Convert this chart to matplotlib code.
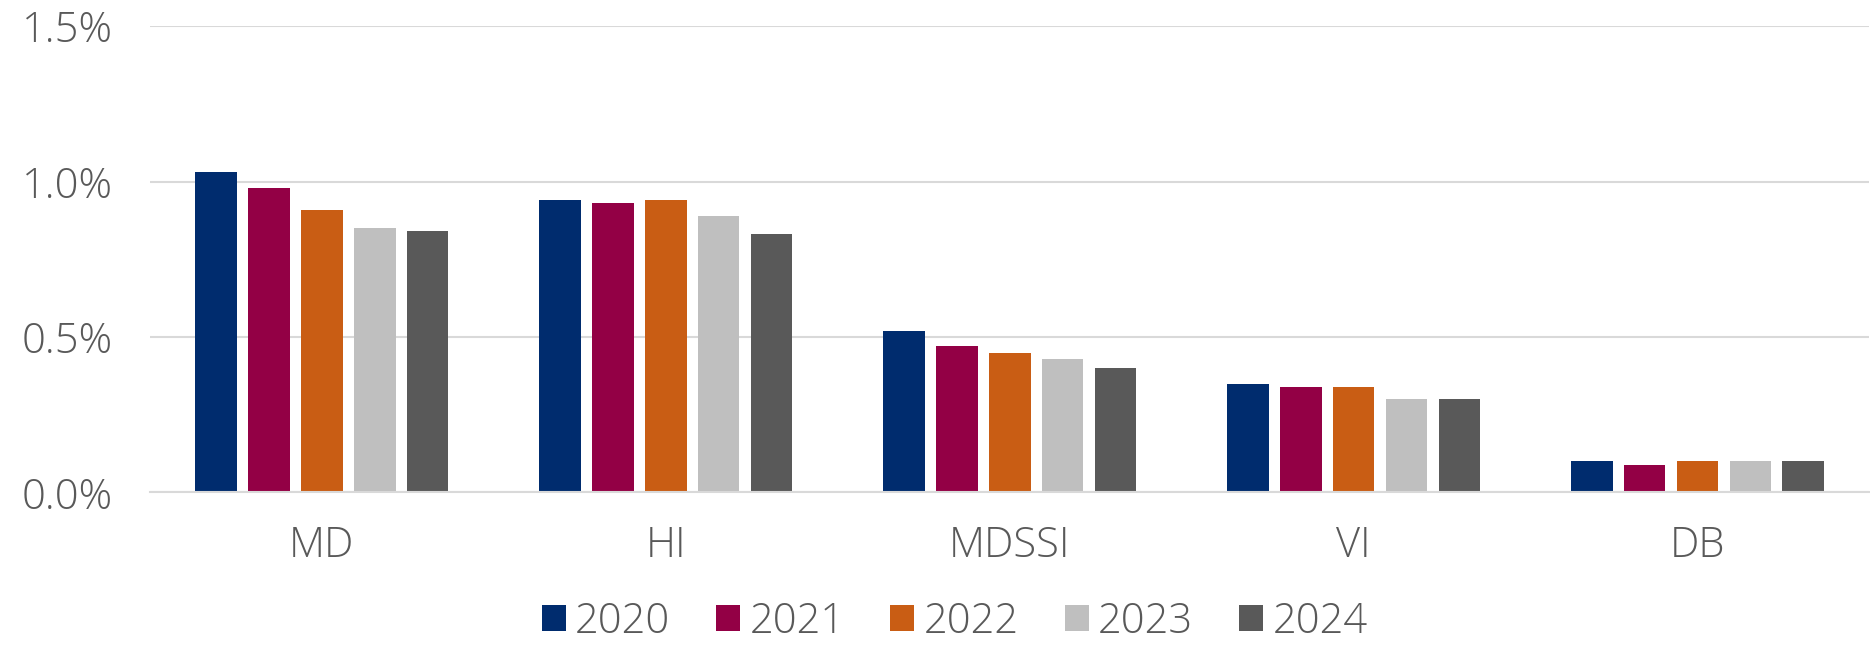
import numpy as np
import matplotlib.pyplot as plt
from matplotlib.ticker import FuncFormatter

categories = ['MD', 'HI', 'MDSSI', 'VI', 'DB']
years = ['2020', '2021', '2022', '2023', '2024']
v2020 = [1.03, 0.94, 0.52, 0.35, 0.10]
v2021 = [0.98, 0.93, 0.47, 0.34, 0.09]
v2022 = [0.91, 0.94, 0.45, 0.34, 0.10]
v2023 = [0.85, 0.89, 0.43, 0.30, 0.10]
v2024 = [0.84, 0.83, 0.40, 0.30, 0.10]
series = [v2020, v2021, v2022, v2023, v2024]
colors = ['#002C6E', '#930045', '#C95D14', '#BFBFBF', '#595959']

plt.rcParams['font.family'] = ['Open Sans', 'DejaVu Sans']
plt.rcParams['font.weight'] = 'light'
text_color = '#595959'

fig = plt.figure(figsize=(18.7, 6.48), dpi=100)
ax = fig.add_axes([0.0802, 0.240, 0.9195, 0.7196])

x = np.arange(len(categories))
slot = 0.1537
width = 0.121
for i, (vals, yr, c) in enumerate(zip(series, years, colors)):
    ax.bar(x + (i - 2) * slot, vals, width=width, color=c, label=yr, zorder=3)

ax.set_xlim(-0.5, 4.5)
ax.set_ylim(0, 1.5)
ax.set_yticks([0, 0.5, 1.0, 1.5])
ax.yaxis.set_major_formatter(FuncFormatter(lambda v, p: f'{v:.1f}%'))
ax.set_xticks(x)
ax.set_xticklabels(categories)
ax.grid(axis='y', color='#D9D9D9', lw=1.5, zorder=0)
ax.tick_params(axis='both', length=0, labelsize=30, labelcolor=text_color)
ax.tick_params(axis='y', pad=27)
ax.tick_params(axis='x', pad=23)
for s in ['top', 'right', 'left']:
    ax.spines[s].set_visible(False)
ax.spines['bottom'].set_color('#D9D9D9')
ax.spines['bottom'].set_linewidth(1.5)
ax.spines['bottom'].set_zorder(4)

leg = fig.legend(loc='center', bbox_to_anchor=(0.5105, 0.041), ncol=5, frameon=False,
                 fontsize=30, handlelength=0.57, handleheight=0.57,
                 handletextpad=0.23, columnspacing=1.1)
for t in leg.get_texts():
    t.set_color(text_color)

fig.savefig('out.png', dpi=100)
